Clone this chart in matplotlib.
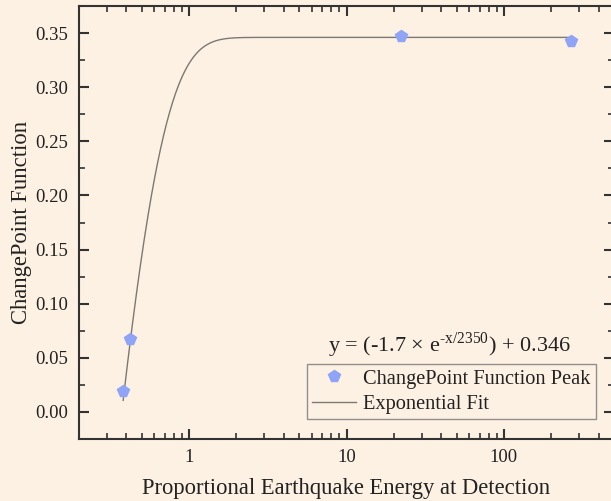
import numpy as np
import matplotlib
matplotlib.use("Agg")
import matplotlib.pyplot as plt
from matplotlib.ticker import LogLocator, NullFormatter, MultipleLocator, FixedLocator, FixedFormatter

# Data
peak_x = [0.3815, 0.42, 22.1, 268.0]
peak_y = [0.0194, 0.067, 0.3475, 0.343]
fit_A = -1.7
fit_t = 0.235
fit_y0 = 0.346
xticks = [1, 10, 100]
xtick_labels = ["1", "10", "100"]
yticks = [0.00, 0.05, 0.10, 0.15, 0.20, 0.25, 0.30, 0.35]

bg = "#fdf1e3"
plt.rcParams["font.family"] = ["Liberation Serif", "DejaVu Serif"]
plt.rcParams["mathtext.fontset"] = "custom"
plt.rcParams["mathtext.rm"] = "Liberation Serif"

fig = plt.figure(figsize=(6.11, 5.01), dpi=100, facecolor=bg)
ax = fig.add_axes([79/611, 62/501, 535/611, 433/501])
ax.set_facecolor(bg)

xf = np.logspace(np.log10(peak_x[0]), np.log10(peak_x[-1]), 600)
yf = fit_A * np.exp(-xf / fit_t) + fit_y0
ax.plot(xf, yf, color="#7d7872", lw=1.0, label="Exponential Fit", zorder=2)
ax.plot(peak_x, peak_y, linestyle="none", marker="p", markersize=8.5,
        color="#8fa3f7", markeredgecolor="#8fa3f7", label="ChangePoint Function Peak", zorder=3)

ax.set_xscale("log")
ax.set_xlim(0.2, 500)
ax.set_ylim(-0.025, 0.375)
ax.xaxis.set_major_locator(FixedLocator(xticks))
ax.xaxis.set_major_formatter(FixedFormatter(xtick_labels))
ax.xaxis.set_minor_locator(LogLocator(base=10, subs=np.arange(2, 10)))
ax.xaxis.set_minor_formatter(NullFormatter())
ax.yaxis.set_major_locator(FixedLocator(yticks))
ax.set_yticklabels([f"{v:.2f}" for v in yticks])
ax.yaxis.set_minor_locator(MultipleLocator(0.025))

for s in ax.spines.values():
    s.set_color("#333333")
    s.set_linewidth(1.5)
ax.tick_params(which="both", direction="in", top=True, right=True, color="#333333", labelsize=13.5,
               labelcolor="#222222")
ax.tick_params(which="major", length=7, width=1.5)
ax.tick_params(which="minor", length=4, width=1.2)
ax.tick_params(axis="y", which="major", pad=8)
ax.tick_params(axis="x", which="major", pad=7)

ax.set_xlabel("Proportional Earthquake Energy at Detection", fontsize=16.3, labelpad=9, color="#222222")
ax.set_ylabel("ChangePoint Function", fontsize=16.3, labelpad=2, color="#222222")

handles, labels = ax.get_legend_handles_labels()
leg = ax.legend(handles[::-1], labels[::-1], loc="lower left", bbox_to_anchor=(0.426, 0.046),
                borderaxespad=0, fontsize=14.7, frameon=True, fancybox=False,
                handlelength=2.15, handletextpad=0.35, borderpad=0.25, labelspacing=0.3)
for t in leg.get_texts():
    t.set_color("#222222")
leg.get_frame().set_edgecolor("#777777")
leg.get_frame().set_facecolor(bg)
leg.get_frame().set_linewidth(1.0)

ax.text(0.693, 0.217, r"y = (-1.7 × e$^{\text{-x/2350}}$) + 0.346", transform=ax.transAxes,
        ha="center", va="center", fontsize=16, color="#222222")

fig.savefig("out.png", dpi=100, facecolor=bg)
